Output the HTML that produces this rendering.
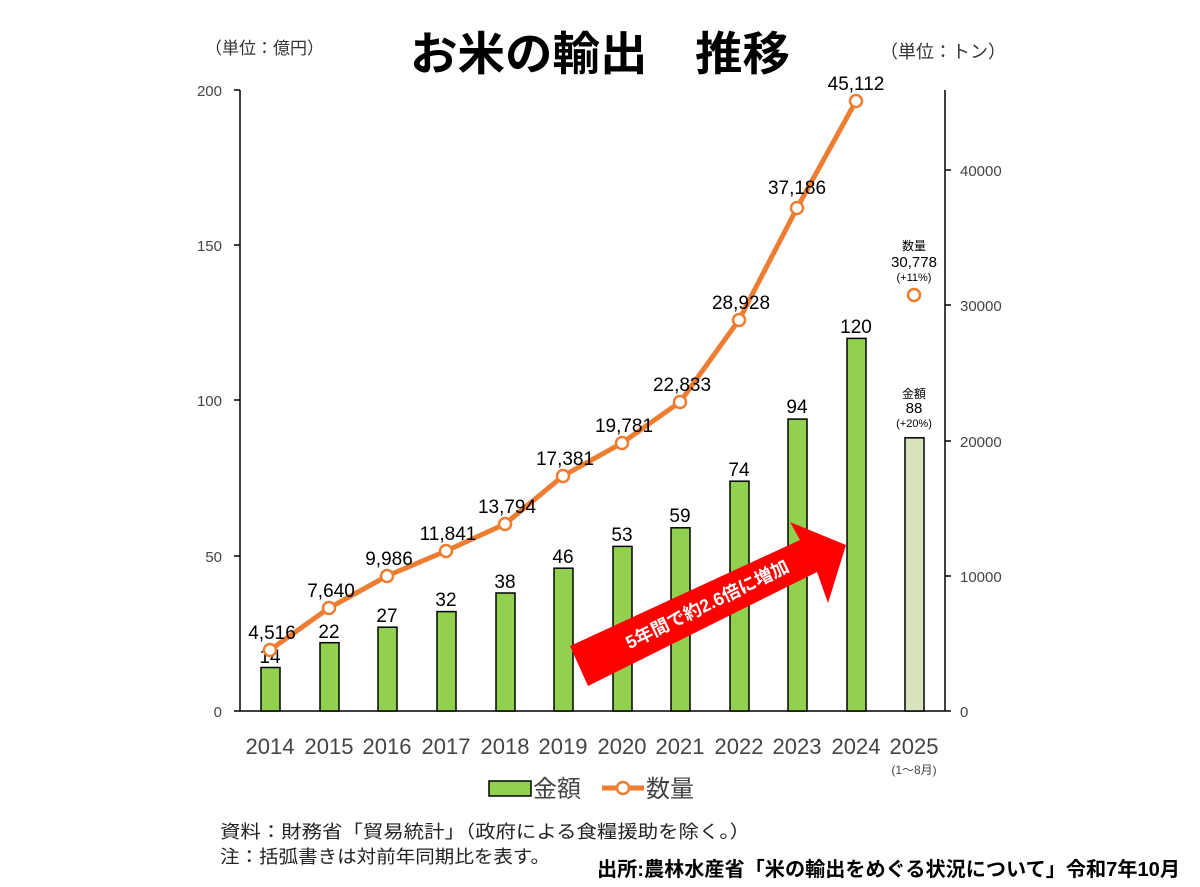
<!DOCTYPE html><html><head><meta charset="utf-8"><style>body{margin:0;background:#fff}svg{display:block}text{font-family:"Liberation Sans","Noto Sans CJK JP",sans-serif}</style></head><body>
<svg width="1200" height="887" viewBox="0 0 1200 887" xmlns="http://www.w3.org/2000/svg">
<text x="410" y="70" textLength="380" lengthAdjust="spacingAndGlyphs" font-size="46" font-weight="bold" fill="#000">お米の輸出　推移</text>
<text x="205" y="54" font-size="17" fill="#333">（単位：億円）</text>
<text x="880" y="58" font-size="18" fill="#333">（単位：トン）</text>
<g stroke="#000" stroke-width="1.5"><line x1="240" y1="90" x2="240" y2="711"/><line x1="240" y1="711" x2="945" y2="711"/><line x1="945" y1="90" x2="945" y2="711"/>
<line x1="234" y1="90" x2="240" y2="90"/><line x1="234" y1="245" x2="240" y2="245"/><line x1="234" y1="400" x2="240" y2="400"/><line x1="234" y1="556" x2="240" y2="556"/><line x1="234" y1="711" x2="240" y2="711"/>
<line x1="945" y1="170" x2="951" y2="170"/><line x1="945" y1="305" x2="951" y2="305"/><line x1="945" y1="441" x2="951" y2="441"/><line x1="945" y1="576" x2="951" y2="576"/><line x1="945" y1="711" x2="951" y2="711"/></g>
<g font-size="15" fill="#444" text-anchor="end"><text x="222" y="96">200</text><text x="222" y="251">150</text><text x="222" y="406">100</text><text x="222" y="562">50</text><text x="222" y="717">0</text></g>
<g font-size="15" fill="#444"><text x="960" y="176">40000</text><text x="960" y="311">30000</text><text x="960" y="447">20000</text><text x="960" y="582">10000</text><text x="960" y="717">0</text></g>
<g fill="#92d050" stroke="#000" stroke-width="1.5">
<rect x="261" y="667.5" width="19" height="43.5"/><rect x="320" y="642.7" width="19" height="68.3"/><rect x="378" y="627.2" width="19" height="83.8"/><rect x="437" y="611.6" width="19" height="99.4"/><rect x="496" y="593" width="19" height="118"/><rect x="554" y="568.2" width="19" height="142.8"/><rect x="613" y="546.4" width="19" height="164.6"/><rect x="671" y="527.8" width="19" height="183.2"/><rect x="730" y="481.2" width="19" height="229.8"/><rect x="788" y="419.1" width="19" height="291.9"/><rect x="847" y="338.4" width="19" height="372.6"/><rect x="905" y="437.8" width="19" height="273.2" fill="#d7e4bd"/></g>
<g font-size="19" fill="#000" text-anchor="middle"><text x="270" y="663">14</text><text x="329" y="638">22</text><text x="387" y="622">27</text><text x="446" y="606">32</text><text x="505" y="588">38</text><text x="563" y="563">46</text><text x="622" y="541">53</text><text x="680" y="522">59</text><text x="739" y="476">74</text><text x="797" y="413">94</text><text x="856" y="333">120</text></g>
<polygon points="570,646 800,540 790,522 846,545 828,603 817,572 588,686" fill="#f00"/>
<text transform="translate(710,610) rotate(-26)" text-anchor="middle" font-size="18" font-weight="bold" fill="#fff">5年間で約2.6倍に増加</text>
<polyline points="270,650 329,608 387,576 446,551 505,524 563,476 622,443 680,402 739,320 797,208 856,101" fill="none" stroke="#ed7d31" stroke-width="5"/>
<g fill="#fff" stroke="#ed7d31" stroke-width="2.5"><circle cx="270" cy="650" r="6"/><circle cx="329" cy="608" r="6"/><circle cx="387" cy="576" r="6"/><circle cx="446" cy="551" r="6"/><circle cx="505" cy="524" r="6"/><circle cx="563" cy="476" r="6"/><circle cx="622" cy="443" r="6"/><circle cx="680" cy="402" r="6"/><circle cx="739" cy="320" r="6"/><circle cx="797" cy="208" r="6"/><circle cx="856" cy="101" r="6"/><circle cx="914" cy="295" r="6"/></g>
<g font-size="19" fill="#000" text-anchor="middle"><text x="272" y="639">4,516</text><text x="331" y="597">7,640</text><text x="389" y="565">9,986</text><text x="448" y="540">11,841</text><text x="507" y="513">13,794</text><text x="565" y="465">17,381</text><text x="624" y="432">19,781</text><text x="682" y="391">22,833</text><text x="741" y="309">28,928</text><text x="797" y="194">37,186</text><text x="856" y="90">45,112</text></g>
<g text-anchor="middle" fill="#000"><text x="914" y="250" font-size="12">数量</text><text x="914" y="267" font-size="15">30,778</text><text x="914" y="281" font-size="11">(+11%)</text>
<text x="914" y="398" font-size="12">金額</text><text x="914" y="413" font-size="15">88</text><text x="914" y="427" font-size="11">(+20%)</text></g>
<g font-size="22" fill="#444" text-anchor="middle"><text x="270" y="754">2014</text><text x="329" y="754">2015</text><text x="387" y="754">2016</text><text x="446" y="754">2017</text><text x="505" y="754">2018</text><text x="563" y="754">2019</text><text x="622" y="754">2020</text><text x="680" y="754">2021</text><text x="739" y="754">2022</text><text x="797" y="754">2023</text><text x="856" y="754">2024</text><text x="914" y="754">2025</text><text x="914" y="774" font-size="12">(1～8月)</text></g>
<rect x="489" y="781" width="42" height="15" fill="#92d050" stroke="#000" stroke-width="1.5"/>
<text x="533" y="797" font-size="24" fill="#444">金額</text>
<line x1="602" y1="788" x2="644" y2="788" stroke="#ed7d31" stroke-width="5"/><circle cx="623" cy="788" r="6" fill="#fff" stroke="#ed7d31" stroke-width="2.5"/>
<text x="646" y="797" font-size="24" fill="#444">数量</text>
<text x="220" y="838" textLength="530" lengthAdjust="spacingAndGlyphs" font-size="18" fill="#222">資料：財務省「貿易統計」（政府による食糧援助を除く。）</text>
<text x="220" y="863" textLength="330" lengthAdjust="spacingAndGlyphs" font-size="18" fill="#222">注：括弧書きは対前年同期比を表す。</text>
<text x="597" y="876" textLength="583" lengthAdjust="spacingAndGlyphs" font-size="20" font-weight="bold" fill="#000">出所:農林水産省「米の輸出をめぐる状況について」令和7年10月</text>
</svg></body></html>
